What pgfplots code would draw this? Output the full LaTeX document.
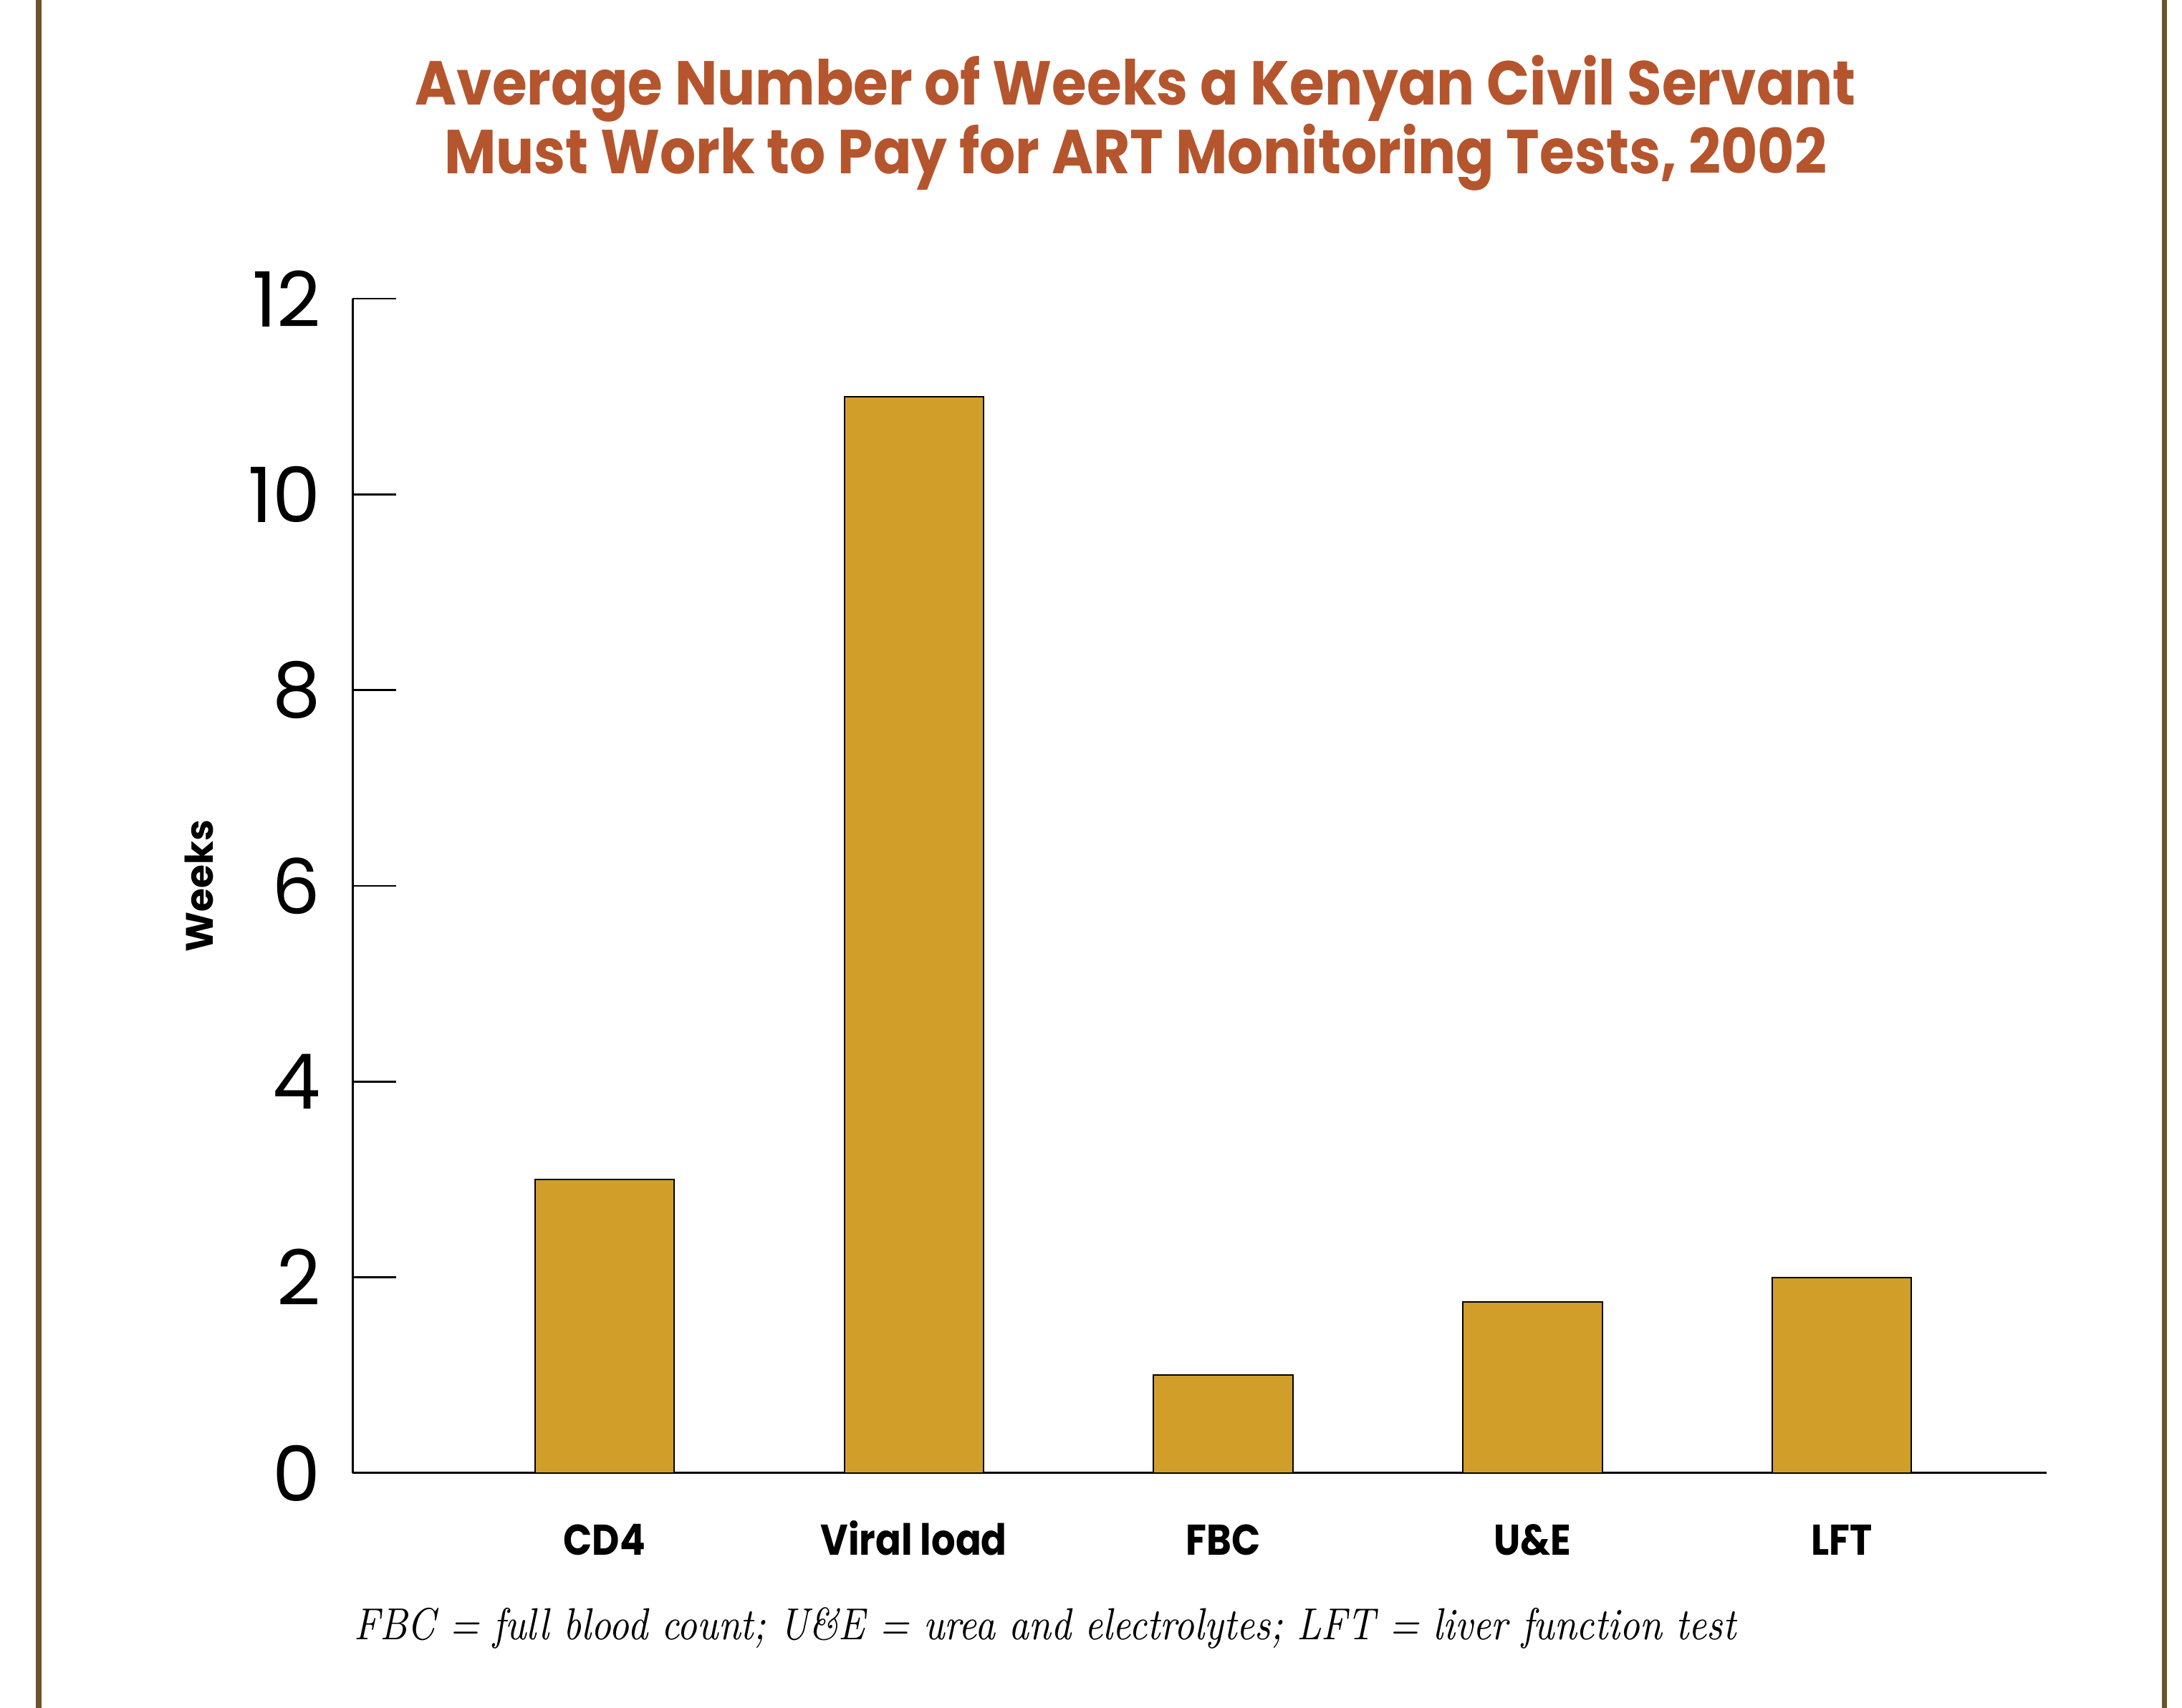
\documentclass[border=0pt]{standalone}
\usepackage{fontspec}
\usepackage{pgfplots}
\pgfplotsset{compat=1.18}
\newfontfamily\pop{Poppins}
\newfontfamily\poptitle{Poppins}[FakeStretch=0.91]
\newfontfamily\popx{Poppins}[FakeStretch=0.88]
\newfontfamily\fnfont{Latin Modern Roman}[FakeStretch=0.85]
\definecolor{barc}{HTML}{D29E2A}
\definecolor{titc}{HTML}{B5552D}
\definecolor{bord}{HTML}{6E5228}
\begin{document}
\begin{tikzpicture}
\path (0pt,0pt) rectangle (456.9pt,357.75pt);
\fill[bord] (7.5pt,0pt) rectangle (8.7pt,357.75pt);
\fill[bord] (452.7pt,0pt) rectangle (453.8pt,357.75pt);
\node[anchor=base, font=\poptitle\bfseries\fontsize{13}{13}\selectfont, text=titc, inner sep=0pt] at (237.8pt,335.7pt) {Average Number of Weeks a Kenyan Civil Servant};
\node[anchor=base, font=\poptitle\bfseries\fontsize{13}{13}\selectfont, text=titc, inner sep=0pt] at (237.8pt,321.3pt) {Must Work to Pay for ART Monitoring Tests, 2002};
\begin{axis}[
  at={(73.8pt,49.2pt)}, anchor=south west,
  scale only axis, width=354.75pt, height=246pt,
  xmin=-0.815, xmax=4.662, ymin=0, ymax=12,
  axis lines*=left,
  axis line style={line width=0.45pt, -},
  ytick={0,2,4,6,8,10,12},
  xtick={0,1,2,3,4},
  xticklabels={CD4,Viral load,FBC,U\&E,LFT},
  tick align=inside,
  major tick length=9.2pt,
  ytick style={line width=0.4pt, black},
  xtick style={draw=none},
  /pgf/number format/assume math mode=true,
  yticklabel style={font=\pop\fontsize{16}{16}\selectfont, anchor=east, inner sep=0pt, xshift=-6.45pt},
  xticklabel style={font=\popx\bfseries\fontsize{9}{9}\selectfont, anchor=base, inner sep=0pt, yshift=-7.9pt},
  ylabel={Weeks},
  ylabel style={font=\pop\bfseries\fontsize{8}{9}\selectfont, at={(axis description cs:-0.0905,0.5)}, anchor=center},
  ybar, bar width=0.45,
  clip=false,
]
\addplot[fill=barc, draw=black, line width=0.3pt] coordinates {(0,3) (1,11) (2,1) (3,1.75) (4,2)};
\end{axis}
\node[anchor=base west, font=\fnfont\itshape\fontsize{9.4}{10}\selectfont, inner sep=0pt] at (73.95pt,14.25pt) {FBC = full blood count; U\&E = urea and electrolytes; LFT = liver function test};
\end{tikzpicture}
\end{document}
